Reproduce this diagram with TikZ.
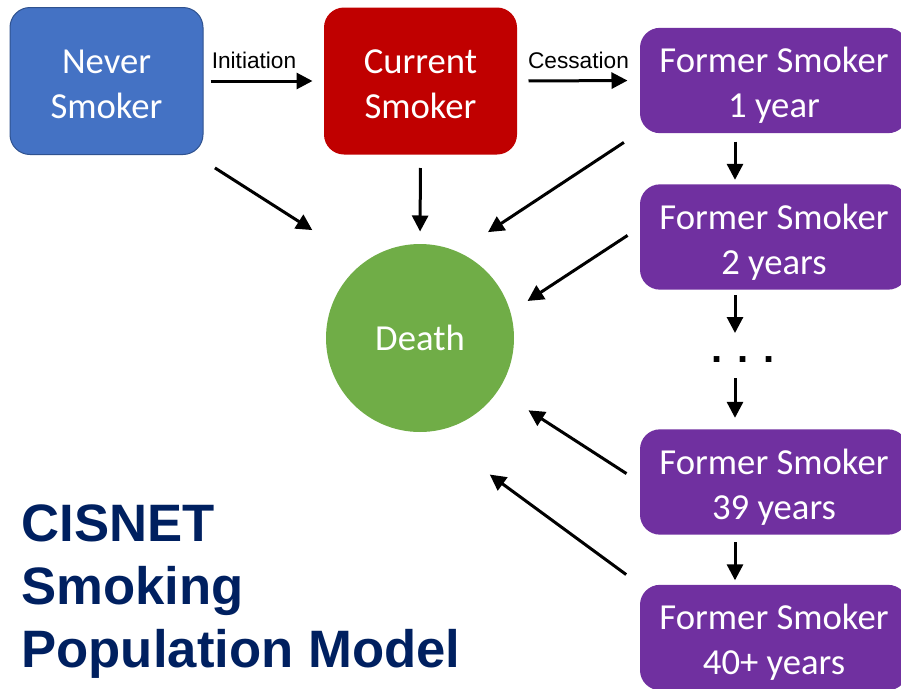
\documentclass[tikz,border=0pt]{standalone}
\usepackage{fontspec}
\setmainfont{Carlito}
\newfontfamily\arialfont{Liberation Sans}
\usetikzlibrary{arrows.meta}

\definecolor{nvblue}{RGB}{68,114,196}
\definecolor{nvedge}{RGB}{47,82,143}
\definecolor{curred}{RGB}{192,0,0}
\definecolor{fmpurple}{RGB}{112,48,160}
\definecolor{dthgreen}{RGB}{112,173,71}
\definecolor{titlenavy}{RGB}{0,32,96}

\newcommand{\topstrut}{\rule{0pt}{22.5pt}}
\newcommand{\fmstrut}{\rule{0pt}{26.5pt}}

\tikzset{every picture/.style={line width=0.75pt}}

\begin{document}
\begin{tikzpicture}[x=0.75pt,y=0.75pt,yscale=-1,xscale=1,
  statebox/.style={rectangle, rounded corners=15pt, text=white, align=center, inner sep=0pt,
    font=\fontsize{27.5}{33.75}\selectfont},
  topbox/.style={statebox, minimum width=144.75pt, minimum height=110.25pt},
  formerbox/.style={statebox, fill=fmpurple, minimum width=201pt, minimum height=79pt},
  arr/.style={-{Triangle[length=12pt,width=12pt]}, line width=2.25pt},
  flowlabel/.style={font=\arialfont\fontsize{17}{20}\selectfont, inner sep=0pt, anchor=base}]
%set diagram size to 901 x 689
\useasboundingbox (0,0) rectangle (901,689);
\clip (0,0) rectangle (901,689);

%Shape: Rounded Rect [id:never]
\node[topbox, fill=nvblue, draw=nvedge] (never) at (106.5,81) {\topstrut Never\\Smoker};
%Shape: Rounded Rect [id:current]
\node[topbox, fill=curred] (current) at (420.5,81) {\topstrut Current\\Smoker};
%Shape: Circle [id:death]
\node[circle, fill=dthgreen, minimum size=141pt, inner sep=0pt, text=white,
  font=\fontsize{27.5}{33.75}\selectfont] (death) at (420,338) {Death};

%Shape: Rounded Rect [id:former]
\node[formerbox] (f1) at (774,80.5) {\fmstrut Former Smoker\\1 year};
\node[formerbox] (f2) at (774,237) {\fmstrut Former Smoker\\2 years};
\node[formerbox] (f39) at (774,482) {\fmstrut Former Smoker\\39 years};
\node[formerbox] (f40) at (774,637.5) {\fmstrut Former Smoker\\40+ years};

% Text Node
\node[inner sep=0pt, font=\arialfont\bfseries\fontsize{30}{30}\selectfont] (dots) at (743,360) {. . .};
\coordinate (spine) at (735,360);

% Text Node
\node[flowlabel] (initlbl) at (254,68) {Initiation};
% Text Node
\node[flowlabel] (cesslbl) at (578.5,68) {Cessation};

% Text Node
\node[anchor=base west, align=left, inner sep=0pt, text=titlenavy,
  font=\arialfont\bfseries\fontsize{39.5}{47.25}\selectfont] (title) at (21,667)
  {CISNET\\Smoking\\Population Model};

%Straight Lines
\draw[arr, shorten <=5.25pt, shorten >=8.25pt] (never.east) -- (current.west);
\draw[arr, shorten <=8.25pt, shorten >=9pt] (current.east) -- (f1.west);

%Straight Lines [into death]
\draw[arr, shorten <=18pt, shorten >=45.2pt] (never.-40.8) -- (death.127.5);
\draw[arr, shorten <=9.75pt, shorten >=9pt] (current.south) -- (death.north);
\draw[arr, shorten <=14pt, shorten >=26.6pt] (f1.201.96) -- (death.66.2);
\draw[arr, shorten <=10.7pt, shorten >=15pt] (f2.176.2) -- (death.16.1);
\draw[arr, shorten <=11.6pt, shorten >=26.9pt] (f39.west) -- (death.-34.1);
\draw[arr, shorten <=12.4pt, shorten >=54.2pt] (f40.north west) -- (death.-83.5);

%Straight Lines [former chain]
\draw[arr, shorten <=6pt, shorten >=3pt] (f1.south -| spine) -- (f2.north -| spine);
\draw[arr, shorten <=3.75pt, shorten >=20.25pt] (f2.south -| spine) -- (dots.center -| spine);
\draw[arr, shorten <=13.5pt, shorten >=8.25pt] (dots.center -| spine) -- (f39.north -| spine);
\draw[arr, shorten <=5.25pt, shorten >=3pt] (f39.south -| spine) -- (f40.north -| spine);

\end{tikzpicture}
\end{document}
